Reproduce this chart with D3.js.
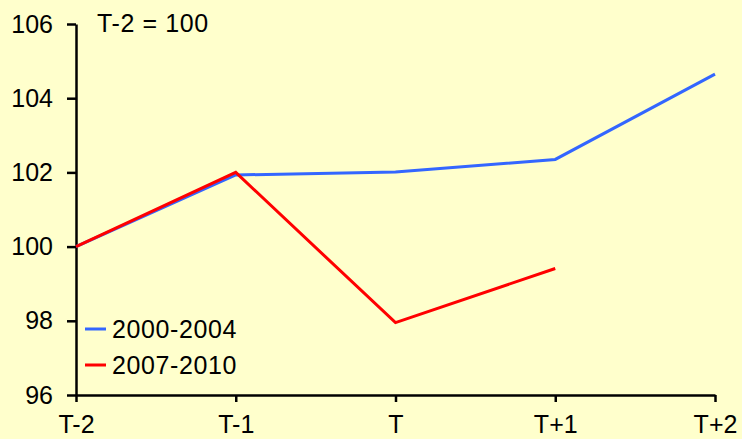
<!DOCTYPE html>
<html>
<head>
<meta charset="utf-8">
<script src="https://cdn.jsdelivr.net/npm/d3@7"></script>
<style>
  html, body { margin: 0; padding: 0; background: #FFFFCC; }
  svg { display: block; }
</style>
</head>
<body>
<div id="chart"></div>
<script>
// Data
const periods = ['T-2', 'T-1', 'T', 'T+1', 'T+2'];
const series2000 = [100, 101.93, 102.01, 102.35, 104.65];
const series2007 = [100, 102.0, 97.95, 99.41];
const yTicks = [96, 98, 100, 102, 104, 106];
const seriesNames = ['2000-2004', '2007-2010'];

const BLUE = '#3366FF';
const RED = '#FF0000';
const FONT = "'Liberation Sans', Arial, Helvetica, sans-serif";
const FONT_SIZE = '25px';

const totalWidth = 742, totalHeight = 439;
const margin = { top: 24, right: 27, bottom: 44, left: 76 };
const width = totalWidth - margin.left - margin.right;
const height = totalHeight - margin.top - margin.bottom;

const svg = d3.select('#chart')
  .append('svg')
  .attr('width', totalWidth)
  .attr('height', totalHeight);

svg.append('rect')
  .attr('width', totalWidth)
  .attr('height', totalHeight)
  .attr('fill', '#FFFFCC');

const g = svg.append('g')
  .attr('transform', `translate(${margin.left},${margin.top})`);

const x = d3.scalePoint()
  .domain(periods)
  .range([0, width]);

const y = d3.scaleLinear()
  .domain([96, 106])
  .range([height, 0]);

// Axes
const xAxis = g.append('g')
  .attr('transform', `translate(0,${height})`)
  .call(d3.axisBottom(x).tickSizeInner(7).tickSizeOuter(0).tickPadding(13));

const yAxis = g.append('g')
  .call(d3.axisLeft(y).tickValues(yTicks).tickSizeInner(9).tickSizeOuter(0).tickPadding(14));

[xAxis, yAxis].forEach(ax => {
  ax.selectAll('text')
    .style('font-family', FONT)
    .style('font-size', FONT_SIZE)
    .style('fill', '#000');
  ax.selectAll('line').style('stroke', '#000').style('stroke-width', 2.5);
  ax.select('.domain').style('stroke', '#000').style('stroke-width', 2.5);
});

// Lines
const line = d3.line()
  .x((d, i) => x(periods[i]))
  .y(d => y(d));

g.append('path')
  .datum(series2000)
  .attr('fill', 'none')
  .attr('stroke', BLUE)
  .attr('stroke-width', 3)
  .attr('d', line);

g.append('path')
  .datum(series2007)
  .attr('fill', 'none')
  .attr('stroke', RED)
  .attr('stroke-width', 3)
  .attr('d', line);

// Base note
svg.append('text')
  .attr('x', 97)
  .attr('y', 32)
  .style('font-family', FONT)
  .style('font-size', FONT_SIZE)
  .style('letter-spacing', '0.6px')
  .text('T-2 = 100');

// Legend
const legend = svg.append('g')
  .attr('transform', 'translate(85,329)');

seriesNames.forEach((name, i) => {
  const row = legend.append('g').attr('transform', `translate(0,${i * 36})`);
  row.append('line')
    .attr('x1', 0).attr('x2', 21)
    .attr('stroke', i === 0 ? BLUE : RED)
    .attr('stroke-width', 3);
  row.append('text')
    .attr('x', 27)
    .attr('y', 9)
    .style('font-family', FONT)
    .style('font-size', FONT_SIZE)
    .style('letter-spacing', '0.6px')
    .text(name);
});
</script>
</body>
</html>
